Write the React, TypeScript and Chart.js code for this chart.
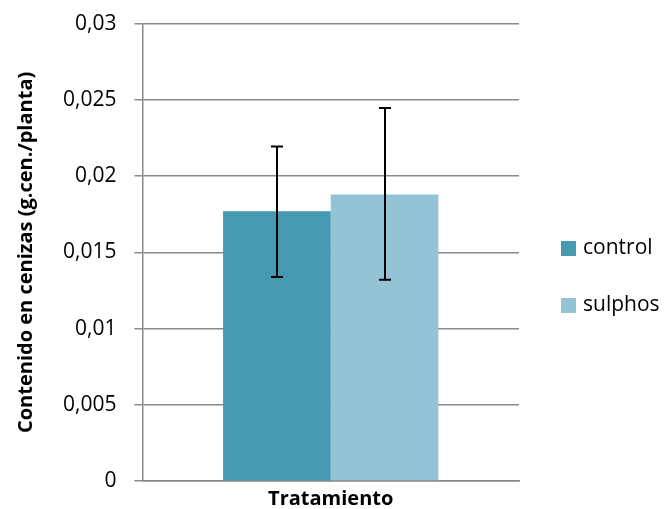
import React, { useEffect, useRef } from "react";
import { Chart, registerables } from "chart.js";

Chart.register(...registerables);

const categories = ["Tratamiento"];
const seriesNames = ["control", "sulphos"];
const seriesColors = ["#4599B1", "#93C3D5"];
const controlValues = [0.0177];
const sulphosValues = [0.0188];
const controlErrLow = [0.01338];
const controlErrHigh = [0.02195];
const sulphosErrLow = [0.0132];
const sulphosErrHigh = [0.02448];
const yTickLabels = ["0", "0,005", "0,01", "0,015", "0,02", "0,025", "0,03"];

const FONT = "Open Sans";

const errorBarPlugin = {
  id: "errorBars",
  afterDatasetsDraw(chart: any) {
    const ctx = chart.ctx;
    const yScale = chart.scales.y;
    const lows = [controlErrLow, sulphosErrLow];
    const highs = [controlErrHigh, sulphosErrHigh];
    chart.data.datasets.forEach((_ds: any, di: number) => {
      const meta = chart.getDatasetMeta(di);
      meta.data.forEach((bar: any, i: number) => {
        const x = Math.round(bar.x);
        const yLo = yScale.getPixelForValue(lows[di][i]);
        const yHi = yScale.getPixelForValue(highs[di][i]);
        ctx.save();
        ctx.strokeStyle = "#000";
        ctx.lineWidth = 2;
        ctx.beginPath();
        ctx.moveTo(x, yHi);
        ctx.lineTo(x, yLo);
        ctx.moveTo(x - 6, yHi);
        ctx.lineTo(x + 6, yHi);
        ctx.moveTo(x - 6, yLo);
        ctx.lineTo(x + 6, yLo);
        ctx.stroke();
        ctx.restore();
      });
    });
  },
};

const sideLegendPlugin = {
  id: "sideLegend",
  afterDraw(chart: any) {
    const ctx = chart.ctx;
    const area = chart.chartArea;
    const boxX = area.right + 42;
    const startY = 241;
    const gap = 57;
    ctx.save();
    ctx.font = `21px "${FONT}"`;
    ctx.textBaseline = "middle";
    ctx.textAlign = "left";
    chart.data.datasets.forEach((ds: any, i: number) => {
      const y = startY + i * gap;
      ctx.fillStyle = ds.backgroundColor;
      ctx.fillRect(boxX, y, 15, 15);
      ctx.fillStyle = "#000";
      ctx.fillText(ds.label, boxX + 22, y + 7);
    });
    ctx.restore();
  },
};

export default function App() {
  const ref = useRef<HTMLCanvasElement>(null);
  useEffect(() => {
    if (!ref.current) return;
    const chart = new Chart(ref.current, {
      type: "bar",
      data: {
        labels: categories,
        datasets: [
          {
            label: seriesNames[0],
            data: controlValues,
            backgroundColor: seriesColors[0],
            barPercentage: 1,
            categoryPercentage: 0.572,
          },
          {
            label: seriesNames[1],
            data: sulphosValues,
            backgroundColor: seriesColors[1],
            barPercentage: 1,
            categoryPercentage: 0.572,
          },
        ],
      },
      plugins: [errorBarPlugin, sideLegendPlugin],
      options: {
        animation: false,
        responsive: false,
        maintainAspectRatio: false,
        layout: { padding: { top: 0, left: 14, right: 148, bottom: 0 } },
        plugins: {
          tooltip: { enabled: false },
          legend: { display: false },
        },
        scales: {
          x: {
            grid: { display: false, drawTicks: false },
            border: { color: "#888", width: 1.5 },
            ticks: { display: false },
            title: {
              display: true,
              text: "Tratamiento",
              color: "#000",
              font: { family: FONT, size: 20, weight: "bold" },
              padding: { top: 6, bottom: -2 },
            },
          },
          y: {
            min: 0,
            max: 0.03,
            ticks: {
              stepSize: 0.005,
              color: "#000",
              font: { family: FONT, size: 21, lineHeight: 0.55 },
              padding: 18,
              callback: (_v: any, i: number) => yTickLabels[i],
            },
            grid: { color: "#8a8a8a", lineWidth: 1.5, tickLength: 8 },
            border: { color: "#888", width: 1.5 },
            title: {
              display: true,
              text: "Contenido en cenizas (g.cen./planta)",
              color: "#000",
              font: { family: FONT, size: 20, weight: "bold" },
              padding: { top: 0, bottom: 7 },
            },
          },
        },
      },
    });
    return () => chart.destroy();
  }, []);
  return (
    <div style={{ position: "fixed", left: 0, top: 0, width: 667, height: 509, background: "#fff" }}>
      <canvas ref={ref} width={667} height={509} />
    </div>
  );
}
